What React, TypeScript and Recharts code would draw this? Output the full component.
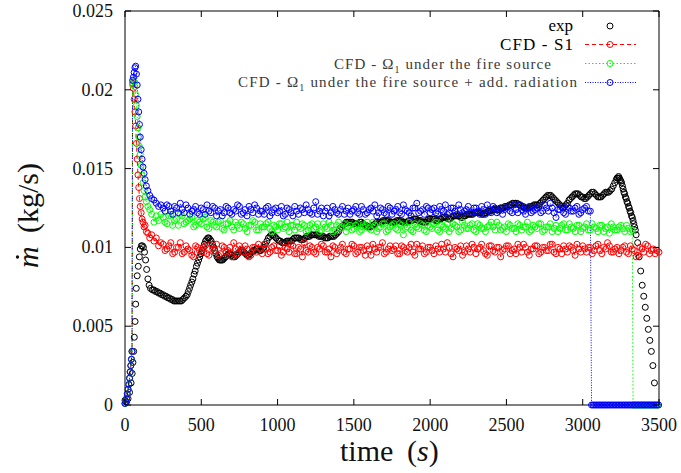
import React from "react"
import { ComposedChart, Line, XAxis, YAxis, ReferenceArea } from "recharts"

const WIDTH = 681
const HEIGHT = 473
const FONT = '"Liberation Serif", "DejaVu Serif", serif'

// plot frame (page pixels), used only for the inward tick marks
const TOP = 11
const BOTTOM = 405
const LEFT = 125
const RIGHT = 659

const xTicks = [0, 500, 1000, 1500, 2000, 2500, 3000, 3500]
const yTicks = [0, 0.005, 0.01, 0.015, 0.02, 0.025]
const yTickLabels = ["0", "0.005", "0.01", "0.015", "0.02", "0.025"]

// experiment: ignition, first dip
const expRiseT = [0, 10, 20, 30, 40, 47, 52, 57, 61, 66, 70, 74, 80, 87, 94, 100, 107, 114, 121, 128, 135, 142, 150, 158, 167, 180, 190, 200, 210, 220, 230, 240, 250, 260, 270, 280, 290, 300, 310, 320, 330, 340, 350, 360, 370, 380, 390, 400, 408, 415, 423, 430, 438, 445, 453, 460, 468, 475, 483, 490, 498, 505, 513, 520, 528, 535, 543, 550, 558, 565, 573, 580, 588, 595, 603, 610, 618, 625, 633, 640, 650]
const expRiseV = [0.0003, 0.0002, 0.0004, 0.0008, 0.0014, 0.0020, 0.0027, 0.0034, 0.0043, 0.0053, 0.0064, 0.0074, 0.0082, 0.0088, 0.0094, 0.0099, 0.0101, 0.0101, 0.0100, 0.0097, 0.0092, 0.0086, 0.0080, 0.0076, 0.0074, 0.0073, 0.0073, 0.0072, 0.0072, 0.0071, 0.0071, 0.0070, 0.0070, 0.0069, 0.0069, 0.0068, 0.0068, 0.0067, 0.0067, 0.0066, 0.0066, 0.0066, 0.0066, 0.0066, 0.0066, 0.0067, 0.0068, 0.0069, 0.0070, 0.0072, 0.0074, 0.0076, 0.0078, 0.0080, 0.0083, 0.0085, 0.0088, 0.0090, 0.0092, 0.0094, 0.0096, 0.0098, 0.0100, 0.0102, 0.0104, 0.0105, 0.0106, 0.0106, 0.0105, 0.0104, 0.0102, 0.0100, 0.0098, 0.0096, 0.0094, 0.0093, 0.0092, 0.0092, 0.0092, 0.0092, 0.0093]

// experiment: every 20 s from 660 s to 3220 s, plus the samples in between
const EXP_MID_START = 660
const EXP_MID_STEP = 20
const expMidV = [
  0.0094, 0.0096, 0.0095, 0.0094, 0.0096, 0.0098, 0.0097, 0.0095, 0.0096, 0.0098,
  0.0099, 0.0098, 0.0099, 0.0102, 0.0106, 0.0108, 0.0107, 0.0105, 0.0104, 0.0103,
  0.0104, 0.0104, 0.0105, 0.0106, 0.0106, 0.0105, 0.0106, 0.0107, 0.0108, 0.0108,
  0.0108, 0.0107, 0.0107, 0.0106, 0.0107, 0.0107, 0.0108, 0.0110, 0.0113, 0.0115,
  0.0116, 0.0116, 0.0115, 0.0115, 0.0116, 0.0115, 0.0114, 0.0113, 0.0114, 0.0115,
  0.0116, 0.0116, 0.0117, 0.0117, 0.0116, 0.0116, 0.0117, 0.0117, 0.0116, 0.0116,
  0.0117, 0.0117, 0.0118, 0.0117, 0.0117, 0.0116, 0.0117, 0.0118, 0.0118, 0.0117,
  0.0118, 0.0119, 0.0119, 0.0118, 0.0119, 0.0120, 0.0120, 0.0119, 0.0120, 0.0121,
  0.0121, 0.0121, 0.0122, 0.0122, 0.0121, 0.0122, 0.0123, 0.0123, 0.0124, 0.0124,
  0.0125, 0.0125, 0.0126, 0.0127, 0.0128, 0.0128, 0.0127, 0.0126, 0.0125, 0.0125,
  0.0126, 0.0127, 0.0127, 0.0128, 0.0130, 0.0132, 0.0133, 0.0132, 0.0130, 0.0128,
  0.0126, 0.0126, 0.0128, 0.0131, 0.0133, 0.0134, 0.0133, 0.0132, 0.0131, 0.0133,
  0.0135, 0.0134, 0.0132, 0.0132, 0.0134, 0.0135, 0.0136, 0.0139, 0.0143,
]
const EXP_HALF_START = 670
const expHalfV = [
  0.0095, 0.0096, 0.0094, 0.0095, 0.0097, 0.0098, 0.0096, 0.0095, 0.0097, 0.0098,
  0.0099, 0.0098, 0.0100, 0.0104, 0.0107, 0.0108, 0.0106, 0.0104, 0.0103, 0.0103,
  0.0104, 0.0104, 0.0106, 0.0106, 0.0105, 0.0105, 0.0107, 0.0107, 0.0108, 0.0108,
  0.0107, 0.0107, 0.0106, 0.0106, 0.0107, 0.0107, 0.0109, 0.0112, 0.0114, 0.0116,
  0.0116, 0.0116, 0.0115, 0.0115, 0.0116, 0.0114, 0.0113, 0.0113, 0.0114, 0.0116,
  0.0116, 0.0117, 0.0117, 0.0117, 0.0116, 0.0116, 0.0117, 0.0117, 0.0116, 0.0116,
  0.0117, 0.0118, 0.0118, 0.0117, 0.0116, 0.0116, 0.0118, 0.0118, 0.0118, 0.0117,
  0.0118, 0.0119, 0.0119, 0.0118, 0.0120, 0.0120, 0.0120, 0.0119, 0.0120, 0.0121,
  0.0121, 0.0122, 0.0122, 0.0122, 0.0121, 0.0122, 0.0123, 0.0124, 0.0124, 0.0124,
  0.0125, 0.0126, 0.0126, 0.0127, 0.0128, 0.0128, 0.0127, 0.0126, 0.0125, 0.0125,
  0.0126, 0.0127, 0.0127, 0.0129, 0.0131, 0.0133, 0.0133, 0.0131, 0.0129, 0.0127,
  0.0125, 0.0127, 0.0130, 0.0132, 0.0134, 0.0134, 0.0132, 0.0131, 0.0132, 0.0134,
  0.0135, 0.0133, 0.0132, 0.0133, 0.0135, 0.0135, 0.0137, 0.0141,
]

// experiment: final peak and burn-out
const expDropT = [3225, 3230, 3235, 3240, 3245, 3250, 3255, 3260, 3265, 3270, 3275, 3280, 3285, 3290, 3295, 3300, 3305, 3310, 3315, 3320, 3325, 3330, 3335, 3340, 3345, 3350, 3360, 3370, 3380, 3390, 3400, 3410, 3420, 3430, 3440, 3450, 3460, 3470]
const expDropV = [0.0144, 0.0144, 0.0145, 0.0144, 0.0143, 0.0142, 0.0141, 0.0139, 0.0137, 0.0135, 0.0134, 0.0132, 0.0131, 0.0129, 0.0128, 0.0126, 0.0125, 0.0123, 0.0122, 0.0120, 0.0119, 0.0117, 0.0115, 0.0113, 0.0111, 0.0108, 0.0103, 0.0094, 0.0085, 0.0076, 0.0069, 0.0062, 0.0055, 0.0048, 0.0041, 0.0034, 0.0025, 0.0014]

// CFD start-up transient
const cfdEarlyT = [0, 5, 10, 15, 20, 25, 30, 34, 38, 42, 46, 50, 55, 60, 65, 70, 75, 80, 85, 90, 95, 100, 106, 112, 118, 125, 132, 140, 150, 162, 175, 190, 205, 220, 235]
const s1EarlyV = [0.0001, 0.0002, 0.0004, 0.0007, 0.0010, 0.0013, 0.0017, 0.0021, 0.0025, 0.0029, 0.0034, 0.0204, 0.0201, 0.0194, 0.0186, 0.0177, 0.0166, 0.0156, 0.0146, 0.0138, 0.0131, 0.0126, 0.0122, 0.0118, 0.0116, 0.0113, 0.0114, 0.0110, 0.0109, 0.0106, 0.0108, 0.0104, 0.0106, 0.0101, 0.0103]
const omegaEarlyV = [0.0001, 0.0002, 0.0004, 0.0007, 0.0010, 0.0013, 0.0017, 0.0021, 0.0025, 0.0029, 0.0034, 0.0203, 0.0206, 0.0205, 0.0202, 0.0197, 0.0190, 0.0183, 0.0176, 0.0170, 0.0164, 0.0159, 0.0152, 0.0146, 0.0141, 0.0136, 0.0132, 0.0129, 0.0126, 0.0124, 0.0121, 0.0116, 0.0120, 0.0117, 0.0121]
const radEarlyV = [0.0001, 0.0002, 0.0004, 0.0007, 0.0010, 0.0013, 0.0017, 0.0021, 0.0025, 0.0029, 0.0034, 0.0206, 0.0208, 0.0211, 0.0214, 0.0215, 0.0210, 0.0203, 0.0194, 0.0186, 0.0178, 0.0170, 0.0162, 0.0156, 0.0151, 0.0147, 0.0143, 0.0139, 0.0136, 0.0133, 0.0131, 0.0130, 0.0128, 0.0126, 0.0127]

// CFD quasi-steady burning, every 25 s from 250 s, and the samples in between (262.5 s, ...)
const BAND_START = 250
const BAND_HALF_START = 262.5
const BAND_STEP = 25
const s1BandV = [
  0.0102, 0.0099, 0.0103, 0.0097, 0.0100, 0.0096, 0.0101, 0.0098, 0.0094, 0.0100,
  0.0097, 0.0101, 0.0095, 0.0099, 0.0102, 0.0096, 0.0100, 0.0098, 0.0094, 0.0099,
  0.0101, 0.0097, 0.0099, 0.0095, 0.0100, 0.0102, 0.0096, 0.0099, 0.0097, 0.0101,
  0.0098, 0.0095, 0.0100, 0.0097, 0.0101, 0.0096, 0.0099, 0.0103, 0.0097, 0.0100,
  0.0096, 0.0099, 0.0101, 0.0097, 0.0094, 0.0100, 0.0098, 0.0102, 0.0096, 0.0099,
  0.0101, 0.0097, 0.0100, 0.0095, 0.0099, 0.0102, 0.0097, 0.0100, 0.0096, 0.0099,
  0.0098, 0.0101, 0.0096, 0.0100, 0.0097, 0.0102, 0.0095, 0.0099, 0.0101, 0.0097,
  0.0100, 0.0096, 0.0099, 0.0102, 0.0097, 0.0100, 0.0094, 0.0099, 0.0101, 0.0097,
  0.0099, 0.0102, 0.0096, 0.0100, 0.0098, 0.0095, 0.0101, 0.0097, 0.0100, 0.0098,
  0.0101, 0.0096, 0.0099, 0.0102, 0.0097, 0.0100, 0.0095, 0.0099, 0.0101, 0.0097,
  0.0100, 0.0098, 0.0102, 0.0096, 0.0099, 0.0101, 0.0097, 0.0100, 0.0095, 0.0099,
  0.0101, 0.0097, 0.0100, 0.0098, 0.0102, 0.0096, 0.0099, 0.0101, 0.0097, 0.0100,
  0.0098, 0.0101, 0.0096, 0.0099, 0.0094, 0.0100, 0.0097, 0.0101, 0.0098, 0.0096,
  0.0097,
]
const s1HalfV = [
  0.0098, 0.0101, 0.0096, 0.0100, 0.0103, 0.0097, 0.0099, 0.0095, 0.0101, 0.0098,
  0.0100, 0.0096, 0.0102, 0.0098, 0.0095, 0.0101, 0.0097, 0.0100, 0.0103, 0.0096,
  0.0099, 0.0101, 0.0094, 0.0100, 0.0097, 0.0099, 0.0102, 0.0096, 0.0100, 0.0098,
  0.0101, 0.0097, 0.0099, 0.0102, 0.0096, 0.0100, 0.0094, 0.0098, 0.0101, 0.0097,
  0.0100, 0.0102, 0.0097, 0.0099, 0.0101, 0.0096, 0.0100, 0.0097, 0.0099, 0.0102,
  0.0096, 0.0100, 0.0098, 0.0101, 0.0095, 0.0099, 0.0100, 0.0103, 0.0097, 0.0101,
  0.0099, 0.0096, 0.0101, 0.0098, 0.0100, 0.0097, 0.0102, 0.0099, 0.0096, 0.0100,
  0.0098, 0.0101, 0.0097, 0.0099, 0.0103, 0.0096, 0.0100, 0.0098, 0.0095, 0.0101,
  0.0097, 0.0100, 0.0099, 0.0102, 0.0096, 0.0101, 0.0098, 0.0100, 0.0094, 0.0099,
  0.0101, 0.0098, 0.0096, 0.0100, 0.0102, 0.0097, 0.0099, 0.0101, 0.0096, 0.0100,
  0.0098, 0.0102, 0.0097, 0.0100, 0.0096, 0.0099, 0.0101, 0.0098, 0.0102, 0.0097,
  0.0099, 0.0100, 0.0096, 0.0101, 0.0098, 0.0100, 0.0103, 0.0097, 0.0099, 0.0096,
  0.0100, 0.0097, 0.0101, 0.0098, 0.0095, 0.0099, 0.0102, 0.0096, 0.0099, 0.0098,
]
const omegaBandV = [
  0.0119, 0.0115, 0.0121, 0.0117, 0.0114, 0.0120, 0.0116, 0.0118, 0.0113, 0.0117,
  0.0115, 0.0119, 0.0112, 0.0116, 0.0113, 0.0117, 0.0111, 0.0115, 0.0113, 0.0116,
  0.0112, 0.0115, 0.0110, 0.0114, 0.0116, 0.0111, 0.0113, 0.0115, 0.0112, 0.0114,
  0.0111, 0.0115, 0.0113, 0.0110, 0.0114, 0.0116, 0.0112, 0.0114, 0.0111, 0.0115,
  0.0113, 0.0110, 0.0115, 0.0112, 0.0114, 0.0111, 0.0116, 0.0113, 0.0110, 0.0114,
  0.0112, 0.0115, 0.0111, 0.0114, 0.0112, 0.0116, 0.0110, 0.0113, 0.0115, 0.0111,
  0.0114, 0.0112, 0.0115, 0.0108, 0.0113, 0.0111, 0.0115, 0.0112, 0.0114, 0.0110,
  0.0113, 0.0115, 0.0111, 0.0114, 0.0112, 0.0110, 0.0115, 0.0113, 0.0111, 0.0114,
  0.0112, 0.0115, 0.0110, 0.0114, 0.0112, 0.0113, 0.0116, 0.0111, 0.0114, 0.0112,
  0.0110, 0.0114, 0.0112, 0.0115, 0.0111, 0.0113, 0.0110, 0.0114, 0.0112, 0.0115,
  0.0111, 0.0113, 0.0110, 0.0114, 0.0112, 0.0115, 0.0111, 0.0113, 0.0110, 0.0114,
  0.0112, 0.0115, 0.0111, 0.0113, 0.0110, 0.0114, 0.0112, 0.0109, 0.0113, 0.0111,
  0.0114, 0.0110, 0.0112, 0.0111,
]
const omegaHalfV = [
  0.0116, 0.0120, 0.0114, 0.0118, 0.0121, 0.0115, 0.0117, 0.0119, 0.0114, 0.0116,
  0.0118, 0.0113, 0.0117, 0.0114, 0.0116, 0.0112, 0.0115, 0.0117, 0.0111, 0.0114,
  0.0116, 0.0112, 0.0114, 0.0117, 0.0111, 0.0115, 0.0113, 0.0116, 0.0110, 0.0113,
  0.0115, 0.0112, 0.0116, 0.0114, 0.0111, 0.0113, 0.0115, 0.0110, 0.0114, 0.0112,
  0.0115, 0.0111, 0.0113, 0.0116, 0.0110, 0.0114, 0.0112, 0.0115, 0.0113, 0.0111,
  0.0114, 0.0110, 0.0113, 0.0116, 0.0111, 0.0114, 0.0112, 0.0115, 0.0110, 0.0113,
  0.0115, 0.0111, 0.0114, 0.0112, 0.0116, 0.0110, 0.0113, 0.0115, 0.0111, 0.0114,
  0.0112, 0.0116, 0.0110, 0.0113, 0.0115, 0.0112, 0.0114, 0.0110, 0.0116, 0.0112,
  0.0114, 0.0111, 0.0115, 0.0112, 0.0110, 0.0114, 0.0113, 0.0116, 0.0111, 0.0113,
  0.0115, 0.0112, 0.0110, 0.0114, 0.0113, 0.0116, 0.0111, 0.0113, 0.0115, 0.0110,
  0.0113, 0.0115, 0.0112, 0.0110, 0.0114, 0.0111, 0.0115, 0.0112, 0.0114, 0.0110,
  0.0113, 0.0111, 0.0115, 0.0112, 0.0114, 0.0110, 0.0113, 0.0115, 0.0111, 0.0113,
  0.0112, 0.0114, 0.0110,
]
const radBandV = [
  0.0125, 0.0127, 0.0123, 0.0126, 0.0122, 0.0124, 0.0127, 0.0121, 0.0124, 0.0122,
  0.0125, 0.0121, 0.0123, 0.0126, 0.0120, 0.0124, 0.0122, 0.0125, 0.0121, 0.0123,
  0.0126, 0.0122, 0.0120, 0.0124, 0.0127, 0.0121, 0.0123, 0.0125, 0.0120, 0.0124,
  0.0122, 0.0126, 0.0121, 0.0124, 0.0120, 0.0123, 0.0125, 0.0122, 0.0124, 0.0121,
  0.0129, 0.0123, 0.0120, 0.0125, 0.0122, 0.0124, 0.0121, 0.0126, 0.0123, 0.0121,
  0.0124, 0.0122, 0.0126, 0.0121, 0.0124, 0.0123, 0.0120, 0.0125, 0.0122, 0.0126,
  0.0121, 0.0124, 0.0122, 0.0127, 0.0123, 0.0120, 0.0125, 0.0122, 0.0124, 0.0126,
  0.0122, 0.0125, 0.0121, 0.0124, 0.0127, 0.0122, 0.0125, 0.0121, 0.0124, 0.0123,
  0.0126, 0.0122, 0.0125, 0.0121, 0.0124, 0.0127, 0.0122, 0.0125, 0.0123, 0.0121,
  0.0125, 0.0123, 0.0127, 0.0122, 0.0124, 0.0121, 0.0126, 0.0123, 0.0125, 0.0122,
  0.0127, 0.0123, 0.0125, 0.0119, 0.0124, 0.0122, 0.0126, 0.0123, 0.0125, 0.0121,
  0.0124, 0.0126, 0.0123,
]
const radHalfV = [
  0.0123, 0.0126, 0.0121, 0.0125, 0.0128, 0.0122, 0.0125, 0.0123, 0.0126, 0.0121,
  0.0124, 0.0127, 0.0122, 0.0125, 0.0123, 0.0120, 0.0126, 0.0122, 0.0124, 0.0127,
  0.0121, 0.0124, 0.0126, 0.0122, 0.0125, 0.0123, 0.0121, 0.0126, 0.0122, 0.0125,
  0.0123, 0.0120, 0.0125, 0.0122, 0.0126, 0.0121, 0.0124, 0.0127, 0.0122, 0.0125,
  0.0121, 0.0125, 0.0123, 0.0120, 0.0126, 0.0122, 0.0124, 0.0121, 0.0125, 0.0123,
  0.0126, 0.0121, 0.0124, 0.0122, 0.0125, 0.0127, 0.0122, 0.0124, 0.0121, 0.0125,
  0.0123, 0.0126, 0.0121, 0.0124, 0.0122, 0.0125, 0.0128, 0.0123, 0.0121, 0.0125,
  0.0124, 0.0122, 0.0126, 0.0123, 0.0121, 0.0125, 0.0123, 0.0127, 0.0122, 0.0124,
  0.0122, 0.0125, 0.0123, 0.0126, 0.0121, 0.0124, 0.0126, 0.0122, 0.0125, 0.0124,
  0.0126, 0.0122, 0.0124, 0.0127, 0.0123, 0.0125, 0.0122, 0.0124, 0.0126, 0.0123,
  0.0125, 0.0128, 0.0122, 0.0124, 0.0126, 0.0121, 0.0125, 0.0123, 0.0126, 0.0122,
  0.0125, 0.0123,
]

// simulations after the fuel is exhausted, every 10 s
const OFF_STEP = 10
const omegaOffStart = 3330
const omegaOffV = [0, 0, 0, 0, 0, 0, 0, 0, 0, 0, 0, 0, 0, 0, 0, 0, 0]
const radOffStart = 3058
const radOffV = [
  0, 0, 0, 0, 0, 0, 0, 0, 0, 0, 0, 0, 0, 0, 0, 0, 0, 0, 0, 0, 0, 0, 0,
  0, 0, 0, 0, 0, 0, 0, 0, 0, 0, 0, 0, 0, 0, 0, 0, 0, 0, 0, 0, 0, 0,
]

const range = (start: number, step: number, n: number) => Array.from({ length: n }, (_, i) => start + i * step)
const zip = (ts: number[], vs: number[]) => ts.map((t, i) => ({ t, v: vs[i] }))
const byTime = (a: { t: number }, b: { t: number }) => a.t - b.t

const expData = [
  ...zip(expRiseT, expRiseV),
  ...zip(range(EXP_MID_START, EXP_MID_STEP, expMidV.length), expMidV),
  ...zip(range(EXP_HALF_START, EXP_MID_STEP, expHalfV.length), expHalfV),
  ...zip(expDropT, expDropV),
].sort(byTime)
const s1Data = [
  ...zip(cfdEarlyT, s1EarlyV),
  ...zip(range(BAND_START, BAND_STEP, s1BandV.length), s1BandV),
  ...zip(range(BAND_HALF_START, BAND_STEP, s1HalfV.length), s1HalfV),
].sort(byTime)
const omegaData = [
  ...zip(cfdEarlyT, omegaEarlyV),
  ...zip(range(BAND_START, BAND_STEP, omegaBandV.length), omegaBandV),
  ...zip(range(BAND_HALF_START, BAND_STEP, omegaHalfV.length), omegaHalfV),
  ...zip(range(omegaOffStart, OFF_STEP, omegaOffV.length), omegaOffV),
].sort(byTime)
const radData = [
  ...zip(cfdEarlyT, radEarlyV),
  ...zip(range(BAND_START, BAND_STEP, radBandV.length), radBandV),
  ...zip(range(BAND_HALF_START, BAND_STEP, radHalfV.length), radHalfV),
  ...zip(range(radOffStart, OFF_STEP, radOffV.length), radOffV),
].sort(byTime)

const ring = (color: string) => (props: any) => (
  <circle
    key={`${color}-${props.index}`}
    cx={props.cx}
    cy={props.cy}
    r={3}
    fill="none"
    stroke={color}
    strokeWidth={1}
  />
)

const textStyle = { fontFamily: FONT }

function XTick(props: any) {
  const { x, payload } = props
  return (
    <g>
      <line x1={x} x2={x} y1={BOTTOM} y2={BOTTOM - 6} stroke="#000" />
      <line x1={x} x2={x} y1={TOP} y2={TOP + 6} stroke="#000" />
      <text x={x} y={431} textAnchor="middle" fontSize={18} style={textStyle} fill="#111">
        {payload.value}
      </text>
    </g>
  )
}

function YTick(props: any) {
  const { y, index } = props
  return (
    <g>
      <line x1={LEFT} x2={LEFT + 6} y1={y} y2={y} stroke="#000" />
      <line x1={RIGHT} x2={RIGHT - 6} y1={y} y2={y} stroke="#000" />
      <text x={113} y={y + 6} textAnchor="end" fontSize={18} style={textStyle} fill="#111">
        {yTickLabels[index]}
      </text>
    </g>
  )
}

function Legend() {
  const sampleX1 = 585
  const sampleX2 = 636
  const dotX = 610
  return (
    <g style={textStyle}>
      <text x={573} y={31} textAnchor="end" fontSize={17} fill="#000" style={textStyle}>exp</text>
      <circle cx={dotX} cy={26} r={3} fill="none" stroke="#000" />

      <text x={573} y={50} textAnchor="end" fontSize={17} fill="#000" style={textStyle} textLength={73} lengthAdjust="spacing">CFD - S1</text>
      <line x1={sampleX1} x2={sampleX2} y1={44.5} y2={44.5} stroke="#ff0000" strokeDasharray="4 3" />
      <circle cx={dotX} cy={44.5} r={3} fill="none" stroke="#ff0000" />

      <text x={551} y={69} textAnchor="end" fontSize={15} fill="#3a3a3a" style={textStyle} textLength={217} lengthAdjust="spacing">
        CFD - Ω<tspan fontSize={10} dy={4}>1</tspan><tspan dy={-4}> under the fire source</tspan>
      </text>
      <line x1={sampleX1} x2={sampleX2} y1={63.5} y2={63.5} stroke="#00ff00" strokeDasharray="1.5 2" />
      <circle cx={dotX} cy={63.5} r={3} fill="none" stroke="#00ff00" />

      <text x={577} y={87} textAnchor="end" fontSize={15} fill="#3a3a3a" style={textStyle} textLength={339} lengthAdjust="spacing">
        CFD - Ω<tspan fontSize={10} dy={4}>1</tspan><tspan dy={-4}> under the fire source + add. radiation</tspan>
      </text>
      <line x1={sampleX1} x2={sampleX2} y1={82.5} y2={82.5} stroke="#0000ff" strokeDasharray="1 1.5" />
      <circle cx={dotX} cy={82.5} r={3} fill="none" stroke="#0000ff" />
    </g>
  )
}

function AxisTitles() {
  return (
    <g style={textStyle} fill="#111">
      <text x={340} y={461} fontSize={30} style={textStyle}>time</text>
      <text x={407} y={461} fontSize={30} style={textStyle}>
        (<tspan fontStyle="italic">s</tspan>)
      </text>
      <g transform="translate(38,0) rotate(-90)">
        <text x={-268} y={0} fontSize={30} fontStyle="italic" style={textStyle}>m</text>
        <text x={-233} y={0} fontSize={30} style={textStyle}>(kg/s)</text>
      </g>
      <circle cx={17.5} cy={257} r={1.7} fill="#111" />
    </g>
  )
}

export default function App() {
  return (
    <div style={{ position: "absolute", left: 0, top: 0, width: WIDTH, height: HEIGHT, background: "#fff", fontFamily: FONT }}>
      <ComposedChart
        width={WIDTH}
        height={HEIGHT}
        margin={{ top: TOP, right: WIDTH - RIGHT, bottom: 0, left: 0 }}
        style={{ fontFamily: FONT }}
      >
        <XAxis
          dataKey="t"
          type="number"
          domain={[0, 3500]}
          ticks={xTicks}
          interval={0}
          height={HEIGHT - BOTTOM}
          axisLine={false}
          tickLine={false}
          tick={(p: any) => <XTick {...p} />}
        />
        <YAxis
          type="number"
          domain={[0, 0.025]}
          ticks={yTicks}
          interval={0}
          width={LEFT}
          axisLine={false}
          tickLine={false}
          tick={(p: any) => <YTick {...p} />}
        />
        <ReferenceArea x1={0} x2={3500} y1={0} y2={0.025} fill="none" stroke="#000" strokeWidth={1} ifOverflow="visible" />
        <Line
          data={expData}
          dataKey="v"
          name="exp"
          type="linear"
          stroke="none"
          dot={ring("#000000")}
          activeDot={false}
          isAnimationActive={false}
        />
        <Line
          data={s1Data}
          dataKey="v"
          name="CFD - S1"
          type="linear"
          stroke="#ff0000"
          strokeWidth={1}
          strokeDasharray="4 3"
          dot={ring("#ff0000")}
          activeDot={false}
          isAnimationActive={false}
        />
        <Line
          data={omegaData}
          dataKey="v"
          name="CFD - Omega1"
          type="linear"
          stroke="#00ff00"
          strokeWidth={1}
          strokeDasharray="1.5 2"
          dot={ring("#00ff00")}
          activeDot={false}
          isAnimationActive={false}
        />
        <Line
          data={radData}
          dataKey="v"
          name="CFD - Omega1 + rad"
          type="linear"
          stroke="#0000ff"
          strokeWidth={1}
          strokeDasharray="1 1.5"
          dot={ring("#0000ff")}
          activeDot={false}
          isAnimationActive={false}
        />
      </ComposedChart>
      <svg
        width={WIDTH}
        height={HEIGHT}
        style={{ position: "absolute", left: 0, top: 0, pointerEvents: "none" }}
      >
        <Legend />
        <AxisTitles />
      </svg>
    </div>
  )
}
